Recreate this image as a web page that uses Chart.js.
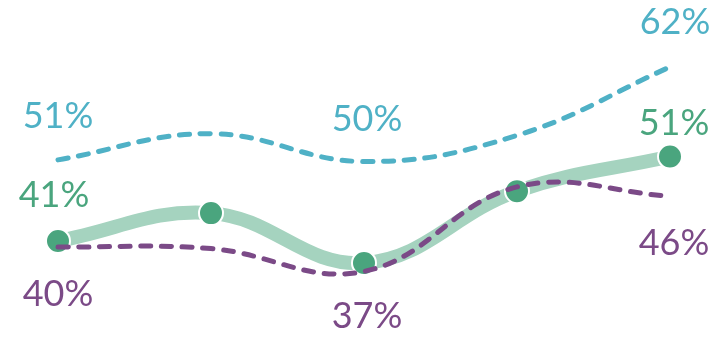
<!DOCTYPE html>
<html>
<head>
<meta charset="utf-8">
<script src="https://cdn.jsdelivr.net/npm/chart.js@4"></script>
<style>
  html, body { margin: 0; padding: 0; background: #fff; }
  #wrap { width: 712px; height: 338px; }
</style>
</head>
<body>
<div id="wrap"><canvas id="chart" width="712" height="338"></canvas></div>
<script>
// data
var categories = ['1', '2', '3', '4', '5'];
var tealValues = [50.6, 53.7, 50.4, 53.5, 61.6];
var greenValues = [41.0, 44.3, 38.4, 46.9, 51.0];
var purpleValues = [40.3, 40.1, 37.4, 47.4, 46.3];

var TEAL = '#4fb1c6';
var GREEN = '#4aa57e';
var GREEN_LIGHT = '#a5d3bf';
var PURPLE = '#7b4a87';

// draws the percent labels next to points
var pointLabels = {
    id: 'pointLabels',
    afterDatasetsDraw: function(chart) {
        var ctx = chart.ctx;
        ctx.save();
        ctx.font = '36px Lato, "Open Sans", sans-serif';
        ctx.textAlign = 'center';
        ctx.textBaseline = 'middle';
        chart.data.datasets.forEach(function(ds, i) {
            if (!ds.labelOffsets) return;
            var meta = chart.getDatasetMeta(i);
            ds.labelOffsets.forEach(function(off, j) {
                if (!off) return;
                var pt = meta.data[j];
                ctx.fillStyle = ds.labelColor;
                ctx.fillText(Math.round(ds.data[j]) + '%', pt.x + off[0], pt.y + off[1]);
            });
        });
        ctx.restore();
    }
};

var ctx = document.getElementById('chart').getContext('2d');
var chart = new Chart(ctx, {
    type: 'line',
    data: {
        labels: categories,
        datasets: [{
            label: 'teal',
            data: tealValues,
            borderColor: TEAL,
            borderWidth: 5,
            borderDash: [10, 10.7],
            borderCapStyle: 'round',
            pointRadius: 0,
            tension: 0.4,
            labelColor: TEAL,
            labelOffsets: [[0, -43], null, [3, -42], null, [5, -45]]
        }, {
            label: 'purple',
            data: purpleValues,
            borderColor: PURPLE,
            borderWidth: 5,
            borderDash: [10, 10.7],
            borderCapStyle: 'round',
            pointRadius: 0,
            tension: 0.4,
            labelColor: PURPLE,
            labelOffsets: [[0, 47], null, [3, 45], null, [4, 47]]
        }, {
            label: 'green',
            data: greenValues,
            borderColor: GREEN_LIGHT,
            borderWidth: 14,
            pointRadius: 12,
            pointBorderWidth: 2,
            pointBackgroundColor: GREEN,
            pointBorderColor: '#ffffff',
            tension: 0.4,
            labelColor: GREEN,
            labelOffsets: [[-4, -46], null, null, null, [4, -33]],
            order: 1
        }]
    },
    options: {
        responsive: false,
        animation: false,
        layout: { autoPadding: false, padding: { left: 58, right: 42, top: 0, bottom: 0 } },
        plugins: {
            legend: { display: false },
            tooltip: { enabled: false }
        },
        scales: {
            x: { display: false, offset: false },
            y: { display: false, min: 29.52, max: 69.52 }
        },
        datasets: { line: { clip: false } }
    },
    plugins: [pointLabels]
});
</script>
</body>
</html>
